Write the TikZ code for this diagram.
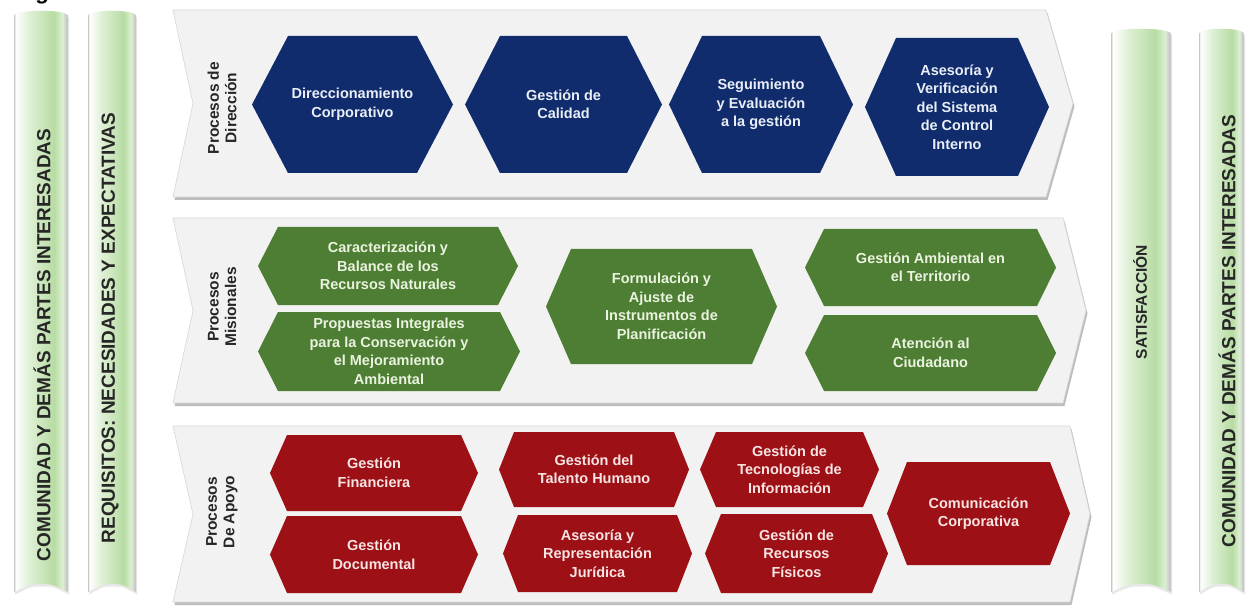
\documentclass[tikz,border=0pt]{standalone}
\usepackage{fontspec}
\setmainfont{Liberation Sans}
\definecolor{navy}{HTML}{102C6C}
\definecolor{navytext}{HTML}{E9EEF7}
\definecolor{hgreen}{HTML}{4E7E33}
\definecolor{greentext}{HTML}{EAF3DF}
\definecolor{hred}{HTML}{9C1016}
\definecolor{redtext}{HTML}{F8E4E2}
\definecolor{bandfill}{HTML}{F2F2F2}
\definecolor{bandedge}{HTML}{D6D6D6}
\definecolor{bandshadow}{HTML}{BDBDBD}
\definecolor{baredge}{HTML}{C8C8C8}
\definecolor{bgA}{HTML}{DDEFD3}
\definecolor{bgB}{HTML}{B7DCA3}
\definecolor{labeltext}{HTML}{262626}
\pgfdeclarehorizontalshading{barshade}{100bp}{color(0bp)=(baredge); color(25bp)=(baredge); color(26.5bp)=(white); color(40bp)=(bgA); color(62bp)=(bgB); color(70bp)=(bgA); color(73.5bp)=(baredge); color(100bp)=(baredge)}
% hexagon: name, x1, x2, y1, y2, inset, fill, textcolour, text
\newcommand\hexbox[9]{%
  \fill[#7] (#2,{(#4+#5)/2}) -- (#2+#6,#4) -- (#3-#6,#4) -- (#3,{(#4+#5)/2}) -- (#3-#6,#5) -- (#2+#6,#5) -- cycle;
  \node[hextext, text=#8] (#1) at ({(#2+#3)/2},{(#4+#5)/2}) {#9};}
% band: y1, y2, xright, xtip
\newcommand\procband[4]{%
  \fill[bandshadow, shift={(1.5,3)}] (173,#1) -- (#3,#1) -- (#4,{(#1+#2)/2}) -- (#3,#2) -- (173,#2) -- (193,{(#1+#2)/2}) -- cycle;
  \fill[bandfill, draw=bandedge, line width=0.6pt] (173,#1) -- (#3,#1) -- (#4,{(#1+#2)/2}) -- (#3,#2) -- (173,#2) -- (193,{(#1+#2)/2}) -- cycle;}
% side bar: x1, x2, ytop, ybot
\newcommand\sidebar[4]{%
  \fill[gray!18, shift={(1,2.5)}] (#1,#3+6) .. controls (#1,#3-1) and (#2,#3-1) .. (#2,#3+6) -- (#2,#4) .. controls ({#2-0.3*(#2-#1)},#4-8) .. ({(#1+#2)/2},#4-8) .. controls ({#1+0.3*(#2-#1)},#4-8) .. (#1,#4) -- cycle;
  \shade[shading=barshade] (#1,#3+6) .. controls (#1,#3-1) and (#2,#3-1) .. (#2,#3+6) -- (#2,#4) .. controls ({#2-0.3*(#2-#1)},#4-8) .. ({(#1+#2)/2},#4-8) .. controls ({#1+0.3*(#2-#1)},#4-8) .. (#1,#4) -- cycle;}
\begin{document}
\begin{tikzpicture}[x=1pt,y=-1pt,
  hextext/.style={align=center, font=\bfseries\fontsize{14.5}{18.5}\selectfont, inner sep=0pt},
  bandlabel/.style={align=center, rotate=90, font=\bfseries\fontsize{15.5}{17.5}\selectfont, text=labeltext, inner sep=0pt},
  sidelabel/.style={rotate=90, font=\bfseries\fontsize{19}{20}\selectfont, text=labeltext, inner sep=0pt},
  caption/.style={anchor=base west, font=\bfseries\itshape\fontsize{22}{22}\selectfont, inner sep=0pt}]
\useasboundingbox[fill=white] (0,0) rectangle (1247,612);
\node[caption] (cap) at (17,-0.5) {Figura};
% side bars
\sidebar{14}{68}{10}{592}
\sidebar{88}{136}{10}{592}
\sidebar{1111}{1171}{28}{592}
\sidebar{1199}{1244}{28}{592}
\node[sidelabel] (lbl1) at (42,345) {COMUNIDAD Y DEMÁS PARTES INTERESADAS};
\node[sidelabel] (lbl2) at (110,328) {REQUISITOS: NECESIDADES Y EXPECTATIVAS};
\node[sidelabel, font=\bfseries\fontsize{15.5}{16}\selectfont] (lbl3) at (1140,302) {SATISFACCIÓN};
\node[sidelabel] (lbl4) at (1227,331) {COMUNIDAD Y DEMÁS PARTES INTERESADAS};
% bands
\procband{10}{197}{1046}{1073}
\procband{218}{403}{1063}{1086}
\procband{426}{602}{1070}{1090}
\node[bandlabel] (bl1) at (222,108) {Procesos de\\Dirección};
\node[bandlabel] (bl2) at (222,307) {Procesos\\Misionales};
\node[bandlabel] (bl3) at (222,512) {Procesos\\De Apoyo};
% direction
\hexbox{dir1}{252}{453}{36}{173}{36}{navy}{navytext}{Direccionamiento\\Corporativo}
\hexbox{dir2}{465}{662}{36}{173}{35}{navy}{navytext}{Gestión de\\Calidad}
\hexbox{dir3}{669}{853}{36}{173}{33}{navy}{navytext}{Seguimiento\\y Evaluación\\a la gestión}
\hexbox{dir4}{865}{1049}{38}{176}{31}{navy}{navytext}{Asesoría y\\Verificación\\del Sistema\\de Control\\Interno}
% misionales
\hexbox{mis1}{258}{518}{227}{305}{20}{hgreen}{greentext}{Caracterización y\\Balance de los\\Recursos Naturales}
\hexbox{mis2}{258}{520}{312}{391}{20}{hgreen}{greentext}{Propuestas Integrales\\para la Conservación y\\el Mejoramiento\\Ambiental}
\hexbox{mis3}{546}{777}{249}{364}{25}{hgreen}{greentext}{Formulación y\\Ajuste de\\Instrumentos de\\Planificación}
\hexbox{mis4}{805}{1056}{229}{306}{19}{hgreen}{greentext}{Gestión Ambiental en\\el Territorio}
\hexbox{mis5}{805}{1056}{315}{391}{19}{hgreen}{greentext}{Atención al\\Ciudadano}
% apoyo
\hexbox{apo1}{270}{478}{435}{511}{17}{hred}{redtext}{Gestión\\Financiera}
\hexbox{apo2}{270}{478}{516}{593}{17}{hred}{redtext}{Gestión\\Documental}
\hexbox{apo3}{499}{689}{432}{507}{15}{hred}{redtext}{Gestión del\\Talento Humano}
\hexbox{apo4}{503}{692}{515}{592}{15}{hred}{redtext}{Asesoría y\\Representación\\Jurídica}
\hexbox{apo5}{700}{879}{432}{507}{16}{hred}{redtext}{Gestión de\\Tecnologías de\\Información}
\hexbox{apo6}{705}{888}{514}{593}{16}{hred}{redtext}{Gestión de\\Recursos\\Físicos}
\hexbox{apo7}{887}{1070}{462}{565}{20}{hred}{redtext}{Comunicación\\Corporativa}
\end{tikzpicture}
\end{document}
